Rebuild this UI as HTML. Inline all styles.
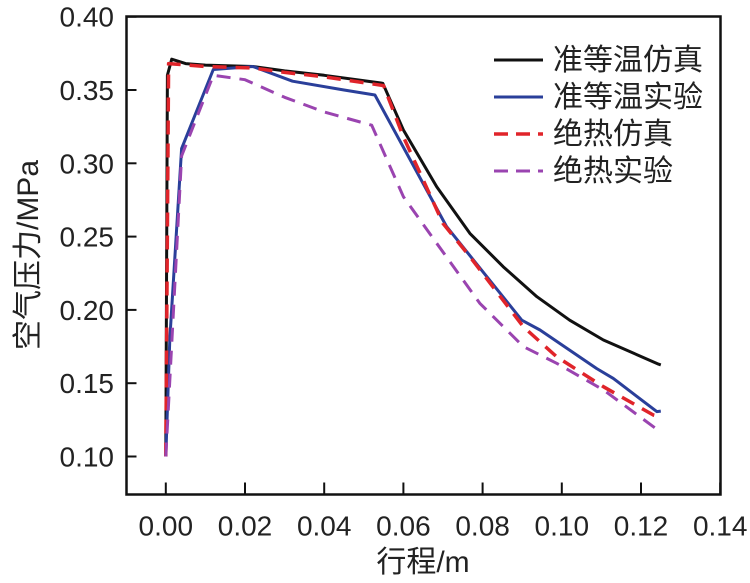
<!DOCTYPE html>
<html><head><meta charset="utf-8"><style>
body{margin:0;background:#fff}
text{font-family:"Liberation Sans","Noto Sans CJK SC",sans-serif;fill:#222}
</style></head><body>
<svg id="chart" width="750" height="578" viewBox="0 0 750 578" xmlns="http://www.w3.org/2000/svg">
<g id="axes"></g><g id="series"></g><g id="legend"></g>
</svg>
<script>
const xTicks=[0,0.02,0.04,0.06,0.08,0.10,0.12,0.14];
const yTicks=[0.10,0.15,0.20,0.25,0.30,0.35,0.40];
const seriesNames=["准等温仿真","准等温实验","绝热仿真","绝热实验"];
const blackX=[0,0.0004,0.0015,0.005,0.01,0.022,0.03,0.04,0.0548,0.060,0.0684,0.0768,0.0852,0.0937,0.102,0.1105,0.1244,0.125];
const blackY=[0.10,0.36,0.371,0.368,0.367,0.366,0.363,0.360,0.3546,0.3227,0.284,0.2522,0.2295,0.209,0.193,0.1795,0.163,0.1625];
const blueX=[0,0.001,0.004,0.012,0.022,0.032,0.045,0.0528,0.0709,0.0899,0.0945,0.1088,0.113,0.124,0.125];
const blueY=[0.10,0.18,0.31,0.364,0.366,0.356,0.350,0.3466,0.2568,0.193,0.1863,0.160,0.1533,0.1306,0.131];
const redX=[0,0.0007,0.01,0.022,0.03,0.04,0.055,0.060,0.065,0.070,0.0768,0.0903,0.0987,0.1105,0.1231,0.125];
const redY=[0.10,0.368,0.366,0.365,0.362,0.359,0.353,0.318,0.2886,0.259,0.2363,0.1885,0.168,0.1476,0.1283,0.127];
const purpleX=[0,0.004,0.012,0.02,0.03,0.04,0.052,0.060,0.0684,0.0793,0.0903,0.0987,0.1105,0.124,0.125];
const purpleY=[0.10,0.305,0.36,0.357,0.345,0.335,0.326,0.2772,0.2454,0.2045,0.175,0.1636,0.1454,0.1186,0.118];

const L=126.5,R=720.5,T=16.5,B=494.5;
const sx=v=>165.8+v*3960;
const sy=v=>16.7+(0.40-v)*1466;
const NS="http://www.w3.org/2000/svg";
function mk(tag,attrs,parent,txt){const e=document.createElementNS(NS,tag);for(const k in attrs)e.setAttribute(k,attrs[k]);if(txt!==undefined)e.textContent=txt;parent.appendChild(e);return e;}
const axes=document.getElementById('axes');
const frame=mk('rect',{x:L,y:T,width:R-L,height:B-T,fill:'none',stroke:'#111','stroke-width':2.5},axes);


xTicks.forEach(v=>{
  const t=mk('line',{x1:sx(v),x2:sx(v),y1:B,y2:B-12,stroke:'#111','stroke-width':2},axes);
  
  
  const l=mk('text',{x:sx(v),y:B+41,'text-anchor':'middle','font-size':28},axes,v.toFixed(2));
  
  
});
yTicks.forEach(v=>{
  const t=mk('line',{x1:L,x2:L+10,y1:sy(v),y2:sy(v),stroke:'#111','stroke-width':2},axes);
  
  
  const l=mk('text',{x:114,y:sy(v)+10,'text-anchor':'end','font-size':28},axes,v.toFixed(2));
  
  
});
const xt=mk('text',{x:423,y:572,'text-anchor':'middle','font-size':30},axes,'行程/m');


const yt=mk('text',{x:0,y:0,'text-anchor':'middle','font-size':30,transform:'translate(38,255) rotate(-90)'},axes,'空气压力/MPa');



const styles=[
 {xs:blackX,ys:blackY,c:'#111',d:'',w:3,n:'black-line-isothermal-sim'},
 {xs:blueX,ys:blueY,c:'#2a3f9a',d:'',w:3,n:'blue-line-isothermal-exp'},
 {xs:redX,ys:redY,c:'#e0242a',d:'14 9',w:3.5,n:'red-line-adiabatic-sim'},
 {xs:purpleX,ys:purpleY,c:'#9a44b0',d:'14 9',w:3,n:'purple-line-adiabatic-exp'}];
const sg=document.getElementById('series');
styles.forEach(s=>{
  const pts=s.xs.map((x,i)=>sx(x).toFixed(1)+','+sy(s.ys[i]).toFixed(1)).join(' ');
  const p=mk('polyline',{points:pts,fill:'none',stroke:s.c,'stroke-width':s.w,'stroke-dasharray':s.d,'stroke-linejoin':'round'},sg);
  
  
});
const lg=document.getElementById('legend');
styles.forEach((s,i)=>{
  const y=60+i*37;
  const ln=mk('line',{x1:494,x2:543,y1:y,y2:y,stroke:s.c,'stroke-width':s.w,'stroke-dasharray':s.d?'14 8':''},lg);
  
  
  const t=mk('text',{x:553,y:y+10,'font-size':30},lg,seriesNames[i]);
  
  
});
</script>
</body></html>
